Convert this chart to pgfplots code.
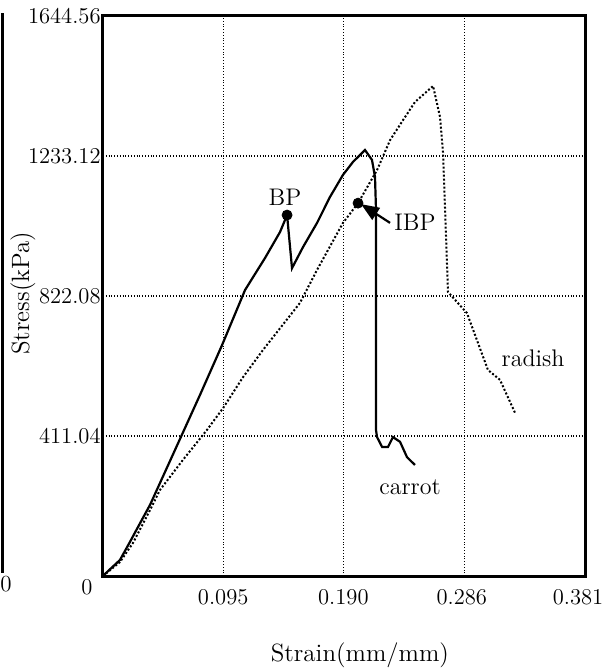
\documentclass[border=0pt]{standalone}
\usepackage{pgfplots}
\pgfplotsset{compat=1.18}
\usetikzlibrary{arrows.meta}
\begin{document}
\begin{tikzpicture}
\useasboundingbox (-51.5pt,-46pt) rectangle (255pt,288pt);
\draw[line width=1.5pt] (-50pt,1.5pt) -- (-50pt,281.5pt);
\node[font=\fontsize{11.5}{14}\selectfont] at (-48.5pt,-4pt) {0};
\begin{axis}[
  scale only axis, width=241pt, height=280pt,
  xmin=0, xmax=0.381, ymin=0, ymax=1644.56,
  axis line style={line width=1.5pt},
  xtick={0.095,0.190,0.286,0.381},
  xticklabels={0.095,0.190,\hspace*{-3pt}0.286,\hspace*{-7pt}0.381},
  ytick={0,411.04,822.08,1233.12,1644.56},
  yticklabels={,411.04,822.08,1233.12,1644.56},
  major tick length=0pt,
  grid=major,
  grid style={densely dotted, black, line width=0.6pt},
  tick label style={font=\fontsize{11.3}{14}\selectfont},
  xticklabel style={yshift=-3pt},
  yticklabel style={inner sep=1pt},
  xlabel={Strain(mm/mm)}, ylabel={Stress(kPa)},
  label style={font=\fontsize{12.5}{14}\selectfont},
  xlabel style={at={(axis description cs:0.533,-0.141)}, anchor=center},
  ylabel style={at={(axis description cs:-0.166,0.505)}, anchor=center},
  clip=false,
]
% carrot (solid)
\addplot[black, line width=1.1pt] coordinates {
(0,0) (0.0032,11.7) (0.0134,47) (0.0213,100) (0.0300,160) (0.0372,209) (0.0569,370)
(0.0767,532) (0.0941,678) (0.1123,840) (0.1281,934) (0.1399,1010)
(0.1455,1060) (0.1494,904) (0.1581,966) (0.1692,1037) (0.1794,1113)
(0.1897,1178) (0.1976,1216) (0.2071,1251) (0.2126,1222) (0.2150,1172)
(0.2158,1075) (0.2158,429) (0.2166,408) (0.2206,379) (0.2253,379)
(0.2292,408) (0.2348,394) (0.2403,349) (0.2466,326)
};
% radish (dotted)
\addplot[black, densely dotted, line width=1pt] coordinates {
(0,0) (0.0134,41) (0.0237,97) (0.0372,194) (0.0451,253) (0.0632,341)
(0.0822,429) (0.0949,493) (0.1107,584) (0.1265,664) (0.1557,802)
(0.1692,899) (0.1897,1037) (0.2016,1095) (0.2166,1192) (0.2269,1280)
(0.2372,1339) (0.2466,1392) (0.2609,1439) (0.2664,1348) (0.2688,1242)
(0.2727,834) (0.2877,772) (0.3043,605) (0.3138,576) (0.3257,479)
};
% BP and IBP points
\addplot[only marks, mark=*, mark size=2.5pt, black] coordinates {
(0.1455,1060) (0.2016,1095)
};
\draw[-{Triangle[length=9pt,width=7pt]}, line width=1.1pt]
  (axis cs:0.2269,1037) -- (axis cs:0.2040,1092);
\node[font=\fontsize{12}{14}\selectfont] at (axis cs:0.1439,1113) {BP};
\node[font=\fontsize{12}{14}\selectfont] at (axis cs:0.2466,1040) {IBP};
\node[font=\fontsize{12}{14}\selectfont] at (axis cs:0.3399,640) {radish};
\node[font=\fontsize{12}{14}\selectfont] at (axis cs:0.2427,261) {carrot};
\node[font=\fontsize{11.3}{14}\selectfont] at (axis cs:0,0) [xshift=-8pt,yshift=-5.5pt] {0};
\end{axis}
\end{tikzpicture}
\end{document}
